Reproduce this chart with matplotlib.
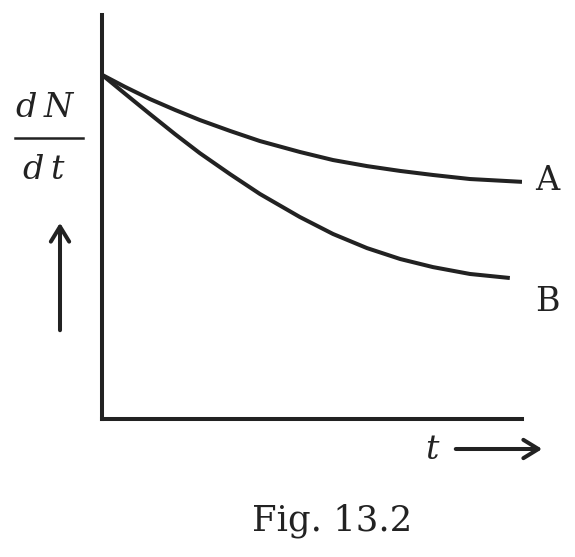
import matplotlib.pyplot as plt
from matplotlib.lines import Line2D
from matplotlib.patches import FancyArrowPatch

# curve values (t from 0 to 10, dN/dt from 0 to 10)
t_A = [0, 0.55, 1.14, 1.74, 2.33, 3.05, 3.76, 4.71, 5.5, 6.31, 7.1, 7.88, 8.76, 10.0]
rate_A = [8.52, 8.22, 7.92, 7.65, 7.40, 7.13, 6.88, 6.61, 6.41, 6.26, 6.14, 6.04, 5.94, 5.87]
t_B = [0, 0.55, 1.14, 1.74, 2.33, 3.05, 3.76, 4.71, 5.5, 6.31, 7.1, 7.88, 8.76, 9.71]
rate_B = [8.52, 8.05, 7.55, 7.05, 6.58, 6.06, 5.57, 5.00, 4.58, 4.23, 3.96, 3.76, 3.59, 3.49]
curve_labels = ['A', 'B']

W, H = 575, 557
ink = '#222222'


def px(x, y):
    # pixel position of the picture -> figure fraction
    return x / W, 1 - y / H


fig = plt.figure(figsize=(W / 100, H / 100), dpi=100)
ax = fig.add_axes([102 / W, 1 - 419 / H, 420 / W, 404 / H])
ax.plot(t_A, rate_A, color=ink, lw=2.9, solid_capstyle='butt', solid_joinstyle='round')
ax.plot(t_B, rate_B, color=ink, lw=2.9, solid_capstyle='butt', solid_joinstyle='round')
ax.set_xlim(0, 10)
ax.set_ylim(0, 10)
ax.set_xticks([])
ax.set_yticks([])
for s in ['top', 'right']:
    ax.spines[s].set_visible(False)
for s in ['left', 'bottom']:
    ax.spines[s].set_linewidth(2.9)
    ax.spines[s].set_color(ink)

serif = 'DejaVu Serif'
fs = 24

# curve labels
fig.text(*px(547, 181), curve_labels[0], fontsize=fs, family=serif, color=ink, ha='center', va='center')
fig.text(*px(547, 302), curve_labels[1], fontsize=fs, family=serif, color=ink, ha='center', va='center')

# y label as a fraction
fig.text(*px(45, 108), 'd\u2009N', fontsize=fs, family=serif, style='italic', color=ink, ha='center', va='center')
fig.text(*px(44, 170), 'd\u2009t', fontsize=fs, family=serif, style='italic', color=ink, ha='center', va='center')
x0, y0 = px(15, 138)
x1, y1 = px(83, 138)
fig.add_artist(Line2D([x0, x1], [y0, y1], color=ink, lw=1.8))

# arrows
fig.add_artist(FancyArrowPatch(
    px(60, 333), px(60, 220), arrowstyle='->,head_length=0.9,head_width=0.55',
    color=ink, lw=2.9, mutation_scale=12, transform=fig.transFigure))
fig.add_artist(FancyArrowPatch(
    px(453, 449), px(545, 449), arrowstyle='->,head_length=0.9,head_width=0.55',
    color=ink, lw=2.9, mutation_scale=12, transform=fig.transFigure))
fig.text(*px(432, 450), 't', fontsize=fs, family=serif, style='italic', color=ink, ha='center', va='center')

# caption
fig.text(*px(332, 521), 'Fig. 13.2', fontsize=25.5, family=serif, color=ink, ha='center', va='center')

fig.savefig('out.png', dpi=100)
